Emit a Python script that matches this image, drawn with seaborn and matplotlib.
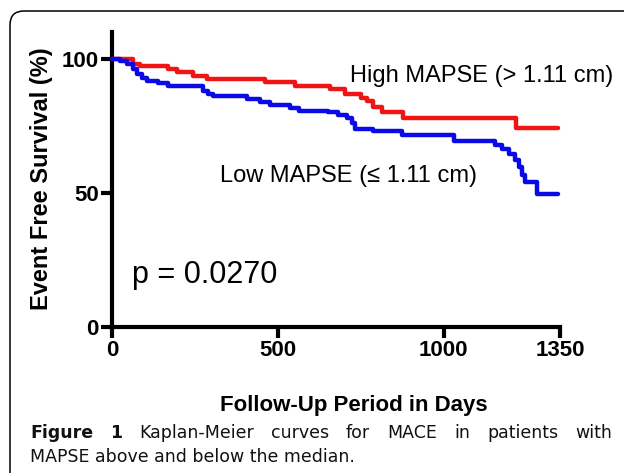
import matplotlib
matplotlib.use("Agg")
import matplotlib.pyplot as plt
from matplotlib.patches import FancyBboxPatch
from matplotlib.transforms import IdentityTransform
import seaborn as sns
import pandas as pd

# ---- data ----
days_high = [0, 64, 84, 169, 195, 245, 285, 461, 550, 656, 703, 750, 768, 787, 815, 878, 1218, 1345]
surv_high = [100, 98.0, 97.4, 96.2, 95.0, 93.7, 92.4, 91.3, 90.0, 88.7, 86.8, 85.4, 84.2, 81.9, 80.0, 78.0, 74.3, 74.3]

days_low = [0, 24, 45, 64, 75, 90, 105, 139, 169, 275, 290, 305, 406, 445, 475, 536, 563,
            650, 680, 707, 722, 731, 787, 875, 1030, 1153, 1175, 1195, 1215, 1225, 1235, 1245, 1282, 1345]
surv_low = [100, 99.0, 98.0, 96.2, 94.3, 92.8, 91.8, 90.8, 89.7, 88.0, 87.0, 86.0, 85.0, 83.8, 82.7, 81.5, 80.7,
            80.0, 79.2, 77.8, 76.2, 73.9, 73.0, 71.7, 69.5, 67.7, 66.4, 64.5, 62.1, 59.6, 56.8, 54.2, 49.7, 49.7]

group_labels = ["High MAPSE (> 1.11 cm)", "Low MAPSE (\u2264 1.11 cm)"]
group_colors = ["#f01414", "#0a0ae6"]
x_ticks = [0, 500, 1000, 1350]
y_ticks = [0, 50, 100]
p_text = "p = 0.0270"
x_label = "Follow-Up Period in Days"
y_label = "Event Free Survival (%)"
caption_bold = "Figure 1"
caption_line1 = "Kaplan-Meier curves for MACE in patients with"
caption_line2 = "MAPSE above and below the median."

sns.set_theme(style="ticks")
plt.rcParams['font.family'] = ['Liberation Sans', 'DejaVu Sans']
plt.rcParams['text.color'] = 'black'

df = pd.concat([
    pd.DataFrame({"day": days_high, "surv": surv_high, "group": group_labels[0]}),
    pd.DataFrame({"day": days_low, "surv": surv_low, "group": group_labels[1]}),
], ignore_index=True)

W, H = 624, 473
fig = plt.figure(figsize=(W / 100, H / 100), dpi=100)
fig.patch.set_facecolor("white")

def fx(px):
    return px / W

def fy(py):
    return 1 - py / H

ax = fig.add_axes([fx(112), fy(327), 448 / W, 295 / H])
sns.lineplot(data=df, x="day", y="surv", hue="group",
             palette=dict(zip(group_labels, group_colors)),
             estimator=None, sort=False, drawstyle="steps-post",
             linewidth=3.2, legend=False, ax=ax, clip_on=False, zorder=3)

ax.set_xlim(0, 1350)
ax.set_ylim(0, 110)
ax.set_xticks(x_ticks)
ax.set_yticks(y_ticks)
ax.set_xlabel("")
ax.set_ylabel("")
for s in ["top", "right"]:
    ax.spines[s].set_visible(False)
for s in ["left", "bottom"]:
    ax.spines[s].set_linewidth(3)
    ax.spines[s].set_color("black")
ax.tick_params(axis="both", width=3, length=8, color="black", direction="out", pad=1.5)
for lab in ax.get_xticklabels() + ax.get_yticklabels():
    lab.set_fontsize(16)
    lab.set_fontweight("bold")
    lab.set_color("black")
ax.set_facecolor("none")

# curve annotations
ax.text(716, 91.4, group_labels[0], fontsize=17, color="black",
        va="baseline", ha="left")
ax.text(325, 54.0, group_labels[1], fontsize=17, color="black",
        va="baseline", ha="left")
ax.text(60, 16.4, p_text, fontsize=22, color="black",
        va="baseline", ha="left")

# axis titles
fig.text(fx(42), fy(179), y_label, rotation=90, fontsize=17, fontweight="bold",
         ha="center", va="center", color="black")
fig.text(fx(354), fy(405), x_label, fontsize=16, fontweight="bold",
         ha="center", va="center", color="black")

# rounded frame (cropped on right and bottom)
frame = FancyBboxPatch((10, -60), 900, H - 11 + 60, boxstyle="round,pad=0,rounding_size=14",
                       fill=False, edgecolor="black", linewidth=1.1,
                       transform=IdentityTransform(), clip_on=False)
fig.add_artist(frame)

# caption, first line justified
cap_font = ['DejaVu Sans']
cap_size = 12.5
fig.canvas.draw()
renderer = fig.canvas.get_renderer()
words = [(w, "bold") for w in caption_bold.split()] + [(w, "normal") for w in caption_line1.split()]
texts = [fig.text(0, fy(438), w, fontsize=cap_size, fontweight=fw, family=cap_font,
                  va="baseline", ha="left", color="#111111") for w, fw in words]
widths = [t.get_window_extent(renderer).width for t in texts]
x0, x1 = 30, 612
gap = (x1 - x0 - sum(widths)) / (len(words) - 1)
xc = x0
for t, w in zip(texts, widths):
    t.set_x(fx(xc))
    xc += w + gap
fig.text(fx(x0), fy(462), caption_line2, fontsize=cap_size, family=cap_font,
         va="baseline", ha="left", color="#111111")

fig.savefig("out.png", dpi=100, facecolor="white")
